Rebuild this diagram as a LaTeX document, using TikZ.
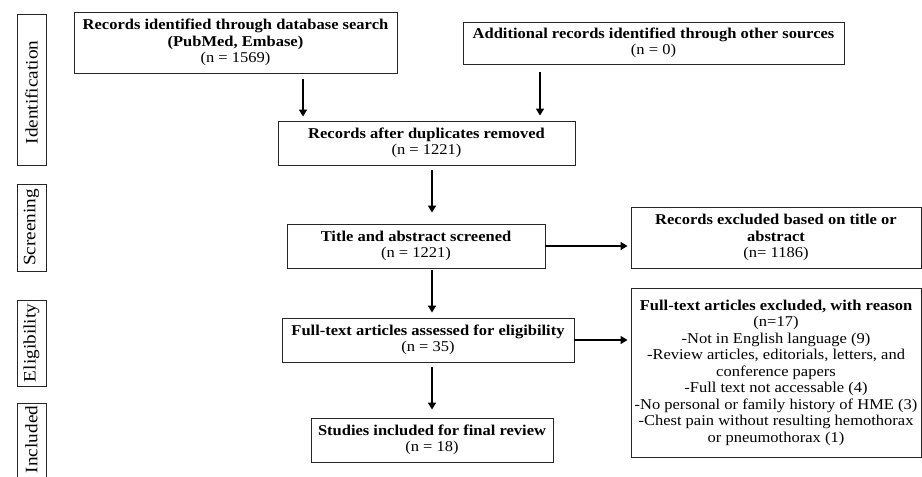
\documentclass[tikz,border=0pt]{standalone}
\usepackage{fontspec}
\setmainfont{Liberation Serif}[FakeStretch=1.1]
\usetikzlibrary{arrows.meta}
\begin{document}
\fontsize{15pt}{16.5pt}\selectfont
\begin{tikzpicture}[x=1pt,y=-1pt,
		box/.style={draw=black!85,line width=0.9pt,inner sep=0pt,align=center},
		side/.style={draw=black!85,line width=0.9pt,inner sep=0pt,minimum width=29pt},
		sidetext/.style={rotate=90,inner sep=0pt,font=\fontsize{17.5pt}{20pt}\selectfont},
		arr/.style={line width=1.6pt,-{Triangle[length=7pt,width=8pt]}}]
		\useasboundingbox (0,0) rectangle (922,477);
		\clip (0,0) rectangle (922,477);
		% stage labels
		\node [side,minimum height=151pt] (sid) at (31.5,89.5) {};
		\node [sidetext] at ([yshift=-3pt]sid.center) {Identification};
		\node [side,minimum height=87pt] (sscr) at (31.5,227.5) {};
		\node [sidetext] at (sscr.center) {Screening};
		\node [side,minimum height=86pt] (selig) at (31.5,343) {};
		\node [sidetext] at (selig.center) {Eligibility};
		\node [side,minimum height=87pt] (sinc) at (31.5,446.5) {};
		\node [sidetext] at ([yshift=7pt]sinc.center) {Included};
		% boxes
		\node [box,minimum width=323pt,minimum height=61pt] (rec) at (235.5,42.5)
			{\textbf{Records identified through database search}\\\textbf{(PubMed, Embase)}\\(n = 1569)};
		\node [box,minimum width=381pt,minimum height=42pt] (add) at (653.5,43)
			{\textbf{Additional records identified through other sources}\\(n = 0)};
		\node [box,minimum width=297pt,minimum height=44pt] (dup) at (426.5,143)
			{\textbf{Records after duplicates removed}\\(n = 1221)};
		\node [box,minimum width=258pt,minimum height=44pt] (scr) at (416,246)
			{\textbf{Title and abstract screened}\\(n = 1221)};
		\node [box,minimum width=290pt,minimum height=61pt] (exc) at (776,237.5)
			{\textbf{Records excluded based on title or}\\\textbf{abstract}\\(n= 1186)};
		\node [box,minimum width=292pt,minimum height=44pt] (full) at (428,340)
			{\textbf{Full-text articles assessed for eligibility}\\(n = 35)};
		\node [box,minimum width=290pt,minimum height=169pt] (excft) at (776,372.5)
			{\textbf{Full-text articles excluded, with reason}\\(n=17)\\-Not in English language (9)\\-Review articles, editorials, letters, and\\conference papers\\-Full text not accessable (4)\\-No personal or family history of HME (3)\\-Chest pain without resulting hemothorax\\or pneumothorax (1)};
		\node [box,minimum width=242pt,minimum height=44pt] (inc) at (432,440)
			{\textbf{Studies included for final review}\\(n = 18)};
		% arrows
		\draw [arr,shorten <=6pt,shorten >=4pt] (rec.south -| 303,0) to (dup.north -| 303,0);
		\draw [arr,shorten <=8pt,shorten >=5pt] (add.south -| 540,0) to (dup.north -| 540,0);
		\draw [arr,shorten <=5pt,shorten >=11pt] (dup.south -| 432,0) to (scr.north -| 432,0);
		\draw [arr,shorten >=3pt] (scr.east) to (exc.west |- scr.east);
		\draw [arr,shorten <=2pt,shorten >=5pt] (scr.south -| 432,0) to (full.north -| 432,0);
		\draw [arr,shorten >=3pt] (full.east) to (excft.west |- full.east);
		\draw [arr,shorten <=5pt,shorten >=8pt] (full.south -| 432,0) to (inc.north -| 432,0);
\end{tikzpicture}
\end{document}
